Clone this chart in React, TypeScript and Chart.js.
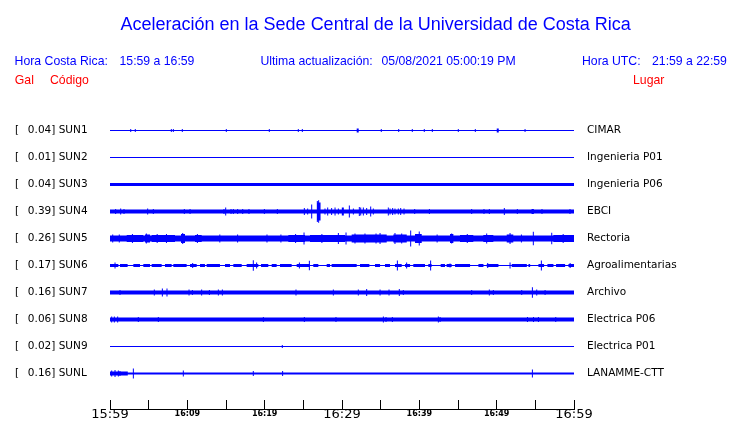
import React, { useEffect, useRef } from "react";
import { Chart, registerables } from "chart.js";

Chart.register(...registerables);

// ---------- data ----------
const CODES = ["SUN1", "SUN2", "SUN3", "SUN4", "SUN5", "SUN6", "SUN7", "SUN8", "SUN9", "SUNL"];
const PEAK_GAL = [0.04, 0.01, 0.04, 0.39, 0.26, 0.17, 0.16, 0.06, 0.02, 0.16];
const PLACES = [
  "CIMAR",
  "Ingenieria P01",
  "Ingenieria P06",
  "EBCI",
  "Rectoria",
  "Agroalimentarias",
  "Archivo",
  "Electrica P06",
  "Electrica P01",
  "LANAMME-CTT",
];

// time axis: minutes after 15:59
const TICK_MINUTES = [0, 10, 20, 30, 40, 50, 60];
const TICK_LABELS = ["15:59", "16:09", "16:19", "16:29", "16:39", "16:49", "16:59"];
const MAJOR_TICKS = [0, 30, 60];

// background noise half-amplitude of every trace (display amplitude units)
const BASE_AMP = [0.5, 0.5, 1.5, 2, 3, 0.5, 2, 2, 0.5, 1];

// stretches of stronger shaking: [startMin, endMin, halfAmp]
const SEG_SUN5 = [
  [2.16, 4.31, 3.5], [4.53, 5.17, 4], [5.39, 8.4, 3.5], [9.18, 9.7, 4.5],
  [10.99, 11.86, 3.5], [23.06, 25.22, 3.5], [25.86, 30.39, 3.5], [31.25, 35.78, 4],
  [36.64, 38.37, 4], [39.44, 40.31, 4.5], [43.97, 44.4, 4.5], [45.26, 46.98, 3.5],
  [48.27, 49.57, 3.5], [51.3, 52.15, 4], [57.33, 60, 3.5],
];
const SEG_SUN6 = [
  [0, 1.08, 1.5], [1.29, 2.28, 1.5], [3.02, 3.88, 1.5], [4.31, 5.17, 1.5], [5.39, 6.68, 1.5],
  [7.11, 7.97, 1.5], [8.19, 9.91, 1.5], [10.35, 11.21, 1.5], [11.64, 12.28, 1.5],
  [12.5, 14.22, 1.5], [14.87, 15.52, 1.5], [15.95, 17.03, 1.5], [17.67, 19.18, 1.5],
  [19.53, 20.47, 1.5], [20.91, 21.55, 1.5], [21.98, 23.49, 1.5], [24.14, 25.86, 1.5],
  [26.29, 26.94, 1.5], [28.02, 28.45, 1.5], [28.66, 29.95, 1.5], [29.74, 31.9, 1.5],
  [32.33, 33.54, 1.5], [34.27, 34.92, 1.5], [35.56, 36.21, 1.5], [36.85, 37.72, 1.5],
  [38.15, 38.8, 1.5], [39.22, 40.73, 1.5], [41.16, 41.59, 1.5], [42.76, 43.32, 1.5],
  [43.53, 44.18, 1.5], [44.62, 46.56, 1.5], [47.64, 48.29, 1.5], [48.72, 50.23, 1.5],
  [51.95, 53.9, 1.5], [54.11, 54.33, 1.5], [55.4, 56.13, 1.5], [56.56, 57.34, 1.5],
  [57.68, 58.85, 1.5], [59.28, 60, 1.5],
];
const SEG_SUN4 = [[26.75, 27.2, 9]];
const SEG_SUNL = [[0, 2.3, 2]];

// short spikes: [minute, halfAmp, durationMin?]
const SPK_SUN1 = [
  [2.68, 1.5], [3.27, 1.5], [7.93, 1.5], [8.19, 1.5], [9.35, 1.5], [15.04, 1.5], [20.6, 1.5],
  [24.35, 1.5], [24.87, 1.5], [32.03, 2, 0.26], [35.08, 1.5], [37.33, 1.5], [39.09, 1.5],
  [40.64, 1.5], [41.68, 1.5], [45.04, 1.5], [47.24, 1.5], [50.14, 2, 0.26], [53.67, 1.5],
];
const SPK_SUN4 = [
  [0.73, 2.5], [1.38, 3], [1.81, 2.5], [4.87, 3], [5.6, 2.5], [9.61, 2.5], [10.35, 2.5],
  [14.74, 2.5], [14.96, 4], [15.65, 2.5], [15.95, 2.5], [16.51, 2.5], [17.16, 2.5],
  [17.97, 2.5], [19.96, 2.5], [21.64, 2.5], [25.13, 3.5], [25.56, 3], [26.08, 7],
  [26.81, 10.5], [26.98, 11.3], [27.16, 9], [27.8, 3], [28.15, 4], [28.66, 3.5], [29.1, 4],
  [29.53, 3], [30.04, 4], [30.17, 4], [30.95, 6], [31.47, 3], [32.24, 4.5], [32.42, 4],
  [32.76, 4], [33.19, 3.5], [33.71, 5], [34.05, 3], [35.99, 4], [36.21, 3], [36.55, 3.5],
  [36.85, 3], [37.28, 3], [37.59, 3.5], [38.02, 3], [39.4, 2.5], [41.3, 2.5], [46.77, 2.5],
  [48.36, 2.5], [49.05, 2.5], [50.99, 3.5], [52.67, 2.5], [54.66, 2.5, 0.3], [55.86, 2.5],
  [59.48, 2.5],
];
const SPK_SUN5 = [
  [0.35, 4], [1.2, 4], [2.9, 4.5], [4.7, 5], [6.1, 4.5], [7.3, 4.5], [9.4, 5.5], [11.3, 4.5],
  [14.2, 4], [16.5, 4], [20.3, 4], [22.1, 4], [24.0, 4.5], [25.09, 6], [27.4, 4.5],
  [29.53, 5.5], [30.52, 6], [31.68, 5], [32.97, 5], [34.4, 5], [34.92, 5.5], [36.85, 5.5],
  [37.72, 5], [38.88, 8], [39.99, 7], [42.3, 4], [44.18, 5], [46.2, 4.5], [48.71, 5],
  [51.73, 5.5], [53.2, 4], [54.74, 6.7], [57.12, 5.8], [58.6, 4.5],
];
const SPK_SUN6 = [
  [0.65, 3], [10.69, 2.5], [18.53, 5.3], [18.96, 3], [24.49, 3], [25.78, 4.7], [37.16, 5],
  [38.36, 3], [41.46, 5], [43.97, 2], [48.84, 2.5], [51.73, 3], [55.78, 5], [59.5, 2.5],
];
const SPK_SUN7 = [
  [1.29, 2.5], [5.73, 3], [6.77, 4], [7.37, 4], [10.22, 3], [10.65, 2.5], [11.85, 3],
  [12.85, 2.5], [14.01, 3], [14.53, 3], [24.05, 3], [28.88, 3], [32.11, 3], [33.19, 3.5],
  [34.92, 3], [36.08, 3], [37.41, 3.5], [37.93, 2.5], [46.77, 2.5], [49.05, 3], [49.57, 2.5],
  [53.24, 2.5], [54.62, 5.3], [55.18, 3], [56.26, 2.5],
];
const SPK_SUN8 = [
  [0.22, 3], [0.56, 3], [0.99, 3], [3.66, 2.5], [6.25, 2.5], [19.83, 2.5], [25.13, 2.5],
  [29.22, 2.5], [35.35, 3], [35.69, 2.5], [36.51, 2.5], [42.46, 3], [42.68, 2.5],
  [53.98, 2.5], [54.76, 2.5], [55.4, 2.5], [57.64, 2.5],
];
const SPK_SUN9 = [[22.28, 1.5]];
const SPK_SUNL = [
  [0.22, 3], [0.65, 3.5], [1.08, 3], [1.29, 2.5], [3.02, 5], [9.48, 3], [18.53, 2.5],
  [22.32, 2.5], [54.62, 4],
];

const SEGMENTS: number[][][] = [[], [], [], SEG_SUN4, SEG_SUN5, SEG_SUN6, [], [], [], SEG_SUNL];
const SPIKES: number[][][] = [SPK_SUN1, [], [], SPK_SUN4, SPK_SUN5, SPK_SUN6, SPK_SUN7, SPK_SUN8, SPK_SUN9, SPK_SUNL];

// ---------- rendering constants ----------
const AMP_UNITS_PER_ROW = 27;
const SPIKE_W = 0.13;
const T_MIN = 0;
const T_MAX = 60;
const Y_MIN = -0.5;
const Y_MAX = 10.3148;
const BLUE = "#0000ff";
const RED = "#ff0000";

function envelope(base: number, segs: number[][], spikes: number[][]) {
  const events: number[][] = [
    ...segs.map(([s, e, a]) => [s, e, a]),
    ...spikes.map(([m, a, w]) => {
      const d = w ?? SPIKE_W;
      return [m - d / 2, m + d / 2, a];
    }),
  ];
  const clamp = (v: number) => Math.min(T_MAX, Math.max(T_MIN, v));
  const set = new Set<number>([T_MIN, T_MAX]);
  events.forEach(([s, e]) => {
    set.add(clamp(s));
    set.add(clamp(e));
  });
  const xs = Array.from(set).sort((a, b) => a - b);
  const pts: number[][] = [];
  for (let i = 0; i < xs.length; i++) {
    if (i === xs.length - 1) {
      pts.push([xs[i], pts.length ? pts[pts.length - 1][1] : base]);
      break;
    }
    const mid = (xs[i] + xs[i + 1]) / 2;
    let a = base;
    for (const [s, e, amp] of events) if (mid >= s && mid <= e && amp > a) a = amp;
    pts.push([xs[i], a]);
  }
  return pts;
}

const TEXT_FONT = "'Liberation Sans', Arial, Helvetica, sans-serif";
const HEADER: { text: string; left: number; top: number; size: number; color: string }[] = [
  { text: "Aceleración en la Sede Central de la Universidad de Costa Rica", left: 120.5, top: 14.8, size: 18, color: BLUE },
  { text: "Hora Costa Rica:", left: 14.6, top: 54.6, size: 12.25, color: BLUE },
  { text: "15:59 a 16:59", left: 119.5, top: 54.6, size: 12.25, color: BLUE },
  { text: "Ultima actualización:", left: 260.4, top: 54.6, size: 12.25, color: BLUE },
  { text: "05/08/2021 05:00:19 PM", left: 381.5, top: 54.6, size: 12.25, color: BLUE },
  { text: "Hora UTC:", left: 582, top: 54.6, size: 12.25, color: BLUE },
  { text: "21:59 a 22:59", left: 652, top: 54.6, size: 12.25, color: BLUE },
  { text: "Gal", left: 14.8, top: 74.1, size: 12.25, color: RED },
  { text: "Código", left: 50, top: 74.1, size: 12.25, color: RED },
  { text: "Lugar", left: 633, top: 74.1, size: 12.25, color: RED },
];

const fixBox = (size: { width?: number; height?: number }) => (s: any) => {
  if (size.width !== undefined) s.width = size.width;
  if (size.height !== undefined) s.height = size.height;
  s.paddingTop = 0;
  s.paddingBottom = 0;
  s.paddingLeft = 0;
  s.paddingRight = 0;
};

export default function App() {
  const ref = useRef<HTMLCanvasElement | null>(null);

  useEffect(() => {
    if (!ref.current) return;
    const datasets: any[] = [];
    CODES.forEach((_, r) => {
      const pts = envelope(BASE_AMP[r], SEGMENTS[r], SPIKES[r]);
      const common = {
        pointRadius: 0,
        borderWidth: 0,
        borderColor: "rgba(0,0,0,0)",
        backgroundColor: BLUE,
        stepped: "before",
        tension: 0,
      };
      datasets.push({
        ...common,
        data: pts.map(([x, a]) => ({ x, y: r - a / AMP_UNITS_PER_ROW })),
        fill: false,
      });
      datasets.push({
        ...common,
        data: pts.map(([x, a]) => ({ x, y: r + a / AMP_UNITS_PER_ROW })),
        fill: "-1",
      });
    });

    const rows = CODES.map((_, i) => i);
    const leftLabels = CODES.map((c, i) => `[  \u2009${PEAK_GAL[i].toFixed(2)}] ${c}`);

    const chart = new Chart(ref.current, {
      type: "line",
      data: { datasets },
      options: {
        animation: false,
        responsive: false,
        devicePixelRatio: 1,
        events: [],
        layout: { autoPadding: false, padding: { top: 117, left: 15, right: 0, bottom: 0 } },
        plugins: { legend: { display: false }, tooltip: { enabled: false }, title: { display: false } },
        scales: {
          x: {
            type: "linear",
            min: T_MIN,
            max: T_MAX,
            afterFit: fixBox({ height: 14 }),
            grid: {
              display: true,
              drawOnChartArea: false,
              drawTicks: true,
              tickLength: -9,
              color: "#000",
              lineWidth: 1,
            },
            border: { display: true, color: "#000", width: 1 },
            ticks: {
              stepSize: 5,
              autoSkip: false,
              maxRotation: 0,
              minRotation: 0,
              padding: 8.2,
              color: "#000",
              font: (ctx: any) =>
                MAJOR_TICKS.includes(ctx.tick?.value)
                  ? { family: "'DejaVu Sans'", size: 13, lineHeight: 1 }
                  : { family: "'DejaVu Sans'", size: 8, weight: "bold", lineHeight: 1.4 },
              callback: (v: any) => {
                const i = TICK_MINUTES.indexOf(Number(v));
                return i >= 0 ? TICK_LABELS[i] : "";
              },
            },
          },
          y: {
            type: "linear",
            position: "left",
            reverse: true,
            min: Y_MIN,
            max: Y_MAX,
            afterFit: fixBox({ width: 95 }),
            afterBuildTicks: (s: any) => {
              s.ticks = rows.map((v) => ({ value: v }));
            },
            grid: { display: false, drawTicks: false },
            border: { display: false },
            ticks: {
              autoSkip: false,
              crossAlign: "far",
              padding: 0,
              color: "#000",
              font: { family: "'DejaVu Sans'", size: 10.5 },
              callback: (_v: any, i: number) => leftLabels[i],
            },
          },
          y2: {
            type: "linear",
            position: "right",
            reverse: true,
            min: Y_MIN,
            max: Y_MAX,
            afterFit: fixBox({ width: 166 }),
            afterBuildTicks: (s: any) => {
              s.ticks = rows.map((v) => ({ value: v }));
            },
            grid: { display: false, drawTicks: false },
            border: { display: false },
            ticks: {
              autoSkip: false,
              crossAlign: "near",
              padding: 13,
              color: "#000",
              font: { family: "'DejaVu Sans'", size: 10.5 },
              callback: (_v: any, i: number) => PLACES[i],
            },
          },
        },
      } as any,
    });
    return () => chart.destroy();
  }, []);

  return (
    <div style={{ position: "absolute", left: 0, top: 0, width: 740, height: 423, background: "#fff", overflow: "hidden" }}>
      <canvas ref={ref} width={740} height={423} style={{ position: "absolute", left: 0, top: 0, width: 740, height: 423 }} />
      {HEADER.map((h, i) => (
        <div
          key={i}
          style={{
            position: "absolute",
            left: h.left,
            top: h.top,
            fontFamily: TEXT_FONT,
            fontSize: h.size,
            lineHeight: `${h.size}px`,
            color: h.color,
            whiteSpace: "pre",
          }}
        >
          {h.text}
        </div>
      ))}
    </div>
  );
}
